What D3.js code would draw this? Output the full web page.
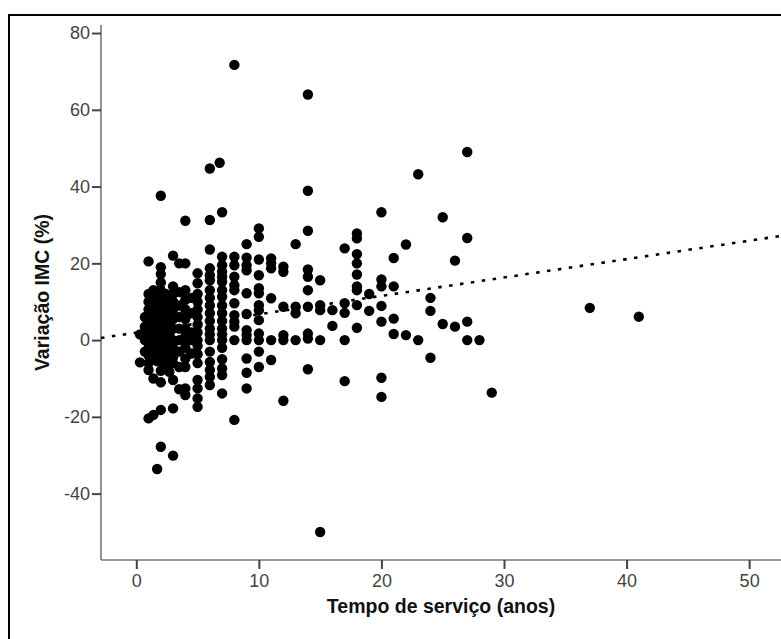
<!DOCTYPE html>
<html>
<head>
<meta charset="utf-8">
<script src="https://cdn.jsdelivr.net/npm/d3@7"></script>
<style>
  html, body { margin: 0; padding: 0; background: #fff; }
  svg { display: block; font-family: "Liberation Sans", Arial, sans-serif; }
</style>
</head>
<body>
<svg id="chart" width="781" height="639"></svg>
<script>
// Tempo de serviço (anos) -> valores de variação do IMC (%) nessa coluna
const anos = [0.3, 0.7, 1, 1.4, 1.7, 2, 2.4, 2.7, 3, 3.5, 4, 4.5, 5, 6, 6.8, 7, 8, 9, 10,
  11, 12, 13, 14, 15, 16, 17, 18, 19, 20, 21, 22, 23, 24, 25, 26, 27, 28, 29, 37, 41];

const variacoes = [
  [1.5, -5.8],
  [0, 3.5, 6, -3],
  [20.5, 12, 10, 8, 6, 4, 2, 0, -2, -4, -6, -7.8, -20.4],
  [13, 9, 7, 5, 3, 1, -1, -3, -5, -10, -19.5],
  [11, 8, 4, 0, -2, -5.5, -33.6],
  [37.6, 19, 17.2, 15, 13, 11, 9, 7, 5, 3, 1, 0, -1.5, -3.5, -5.5, -8, -11, -18.2, -27.8],
  [12, 9, 6, 3, 0, -2.5, -5, -7],
  [10, 7.5, 4.5, 1.5, -1, -4, -8.3],
  [22, 14, 12, 10, 8, 5.5, 3, 0, -2, -4.5, -6, -10.4, -17.8, -30.1],
  [20, 12.5, 9, 6, 3, 0, -3, -7, -12.8],
  [31.1, 20, 13, 10.5, 8, 5.5, 3, 1, 0, -2, -4.8, -7, -12.6, -14.3],
  [11, 7, 2, 0, -3.5],
  [17.4, 14.8, 12, 10, 8, 6, 4, 2, 0, -1.5, -3.7, -6, -10.4, -12.6, -15.2, -17.4],
  [44.7, 31.3, 23.6, 18.7, 16.9, 15.6, 13, 11, 9, 7, 5, 3, 1.5, 0, -3, -5.7, -7.8, -9.6, -11.7],
  [46.2],
  [33.3, 21.7, 19.5, 17.8, 16.5, 15.2, 13, 11.3, 9, 7, 5, 3, 1.5, 0, -2, -5, -7.4, -9.1, -13.9],
  [71.7, 21.7, 19.5, 16.5, 14.3, 13, 9.6, 6.5, 4.8, 3.5, 0, -20.8],
  [25, 21.5, 19.5, 18.2, 12.2, 6.8, 2.6, 1.3, 0, -4.8, -8.5, -12.6],
  [29.1, 26.9, 21, 16.9, 13.5, 12.2, 9.1, 7.8, 5.2, 1.7, 0, -3, -7],
  [21.3, 20, 18.7, 10.9, 0, -5.2],
  [19.1, 17.8, 8.7, 1.3, 0, -15.8],
  [25, 8.7, 7, 0],
  [64, 38.9, 28.5, 18.4, 16.5, 13, 8.7, 1.7, 0.4, -7.6],
  [15.6, 9.1, 7.8, 0, -50],
  [7.8, 3.7],
  [23.9, 9.6, 7.1, 0, -10.7],
  [27.8, 26.5, 22.4, 20, 17.1, 14, 13, 9.1, 3.2],
  [12, 7.6],
  [33.3, 15.8, 14, 8.9, 4.8, -9.8, -14.8],
  [21.4, 14, 5.6, 1.6],
  [24.9, 1.3],
  [43.2, 0],
  [11, 7.6, -4.6],
  [32, 4.2],
  [20.7, 3.5],
  [49, 26.6, 4.8, 0],
  [0],
  [-13.7],
  [8.4],
  [6.1]
];

// Reta de ajuste: y = a + b * x
const ajusteIntercepto = 1.94;
const ajusteInclinacao = 0.479;

const xTicks = [0, 10, 20, 30, 40, 50];
const yTicks = [-40, -20, 0, 20, 40, 60, 80];

const pontos = [];
anos.forEach((ano, i) => {
  variacoes[i].forEach((v) => pontos.push({ x: ano, y: v }));
});

const svg = d3.select("#chart");

const x = d3.scaleLinear().domain([-2.88, 52.6]).range([101, 781]);
const y = d3.scaleLinear().domain([-57.3, 82.1]).range([560, 25]);

// hyphen instead of the unicode minus used by d3.format
const fmt = (d) => String(d);

// moldura externa
svg.append("rect")
  .attr("x", 9).attr("y", 15)
  .attr("width", 820).attr("height", 700)
  .attr("fill", "none")
  .attr("stroke", "#000")
  .attr("stroke-width", 2);

// eixos
const xAxis = svg.append("g")
  .attr("transform", `translate(0,${y.range()[0]})`)
  .call(d3.axisBottom(x).tickValues(xTicks).tickSize(9).tickPadding(5).tickFormat(fmt));

const yAxis = svg.append("g")
  .attr("transform", `translate(${x.range()[0]},0)`)
  .call(d3.axisLeft(y).tickValues(yTicks).tickSize(9).tickPadding(2).tickFormat(fmt));

[xAxis, yAxis].forEach((g) => {
  g.select(".domain")
    .attr("stroke", "#777")
    .attr("stroke-width", 1.6);
  g.selectAll(".tick line")
    .attr("stroke", "#444")
    .attr("stroke-width", 2);
  g.selectAll(".tick text")
    .attr("fill", "#444")
    .style("font-size", "18px");
});
// remove outer ticks of the domain path
xAxis.select(".domain").attr("d", `M${x.range()[0]},0H${x.range()[1]}`);
yAxis.select(".domain").attr("d", `M0,${y.range()[0]}V${y.range()[1]}`);

// pontos
svg.append("g")
  .selectAll("circle")
  .data(pontos)
  .join("circle")
  .attr("cx", (d) => x(d.x))
  .attr("cy", (d) => y(d.y))
  .attr("r", 5.2)
  .attr("fill", "#000");

// linha de ajuste pontilhada
const [x0, x1] = x.domain();
svg.append("line")
  .attr("x1", x(x0))
  .attr("y1", y(ajusteIntercepto + ajusteInclinacao * x0))
  .attr("x2", x(x1))
  .attr("y2", y(ajusteIntercepto + ajusteInclinacao * x1))
  .attr("stroke", "#000")
  .attr("stroke-width", 2.6)
  .attr("stroke-dasharray", "3.5 7.5");

// títulos
svg.append("text")
  .attr("x", (x.range()[0] + x.range()[1]) / 2)
  .attr("y", 613)
  .attr("text-anchor", "middle")
  .style("font-size", "19.5px")
  .style("font-weight", "bold")
  .attr("fill", "#111")
  .text("Tempo de serviço (anos)");

svg.append("text")
  .attr("transform", `translate(49,${(y.range()[0] + y.range()[1]) / 2}) rotate(-90)`)
  .attr("text-anchor", "middle")
  .style("font-size", "19.5px")
  .style("font-weight", "bold")
  .attr("fill", "#111")
  .text("Variação IMC (%)");
</script>
</body>
</html>
